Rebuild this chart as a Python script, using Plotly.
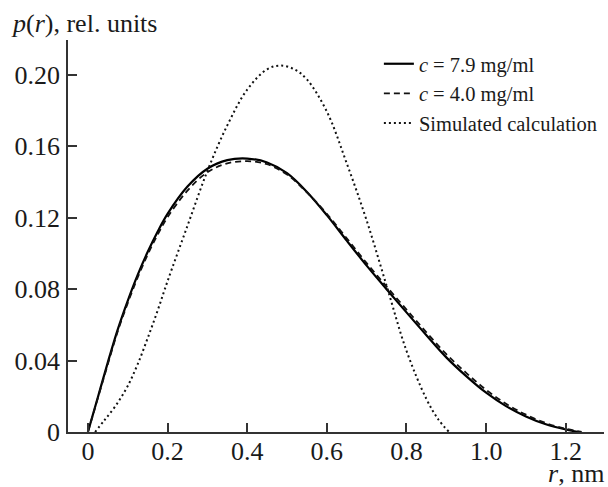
import plotly.graph_objects as go

# Distance distribution functions p(r)
r_79 = [0, 0.025, 0.05, 0.075, 0.1, 0.125, 0.15, 0.175, 0.2, 0.25, 0.3, 0.35,
        0.4, 0.45, 0.5, 0.55, 0.6, 0.65, 0.7, 0.75, 0.8, 0.85, 0.9, 0.95,
        1.0, 1.05, 1.1, 1.15, 1.2, 1.233]
p_79 = [0, 0.0195, 0.039, 0.0575, 0.0735, 0.088, 0.1008, 0.1122, 0.1222,
        0.1375, 0.1475, 0.1523, 0.1532, 0.1510, 0.1450, 0.1345, 0.1215,
        0.1072, 0.0932, 0.0800, 0.0670, 0.0542, 0.0418, 0.0313, 0.0220,
        0.0145, 0.0087, 0.0043, 0.0014, 0]

r_40 = [0, 0.025, 0.05, 0.075, 0.1, 0.125, 0.15, 0.175, 0.2, 0.25, 0.3, 0.35,
        0.4, 0.45, 0.5, 0.55, 0.6, 0.65, 0.7, 0.75, 0.8, 0.85, 0.9, 0.95,
        1.0, 1.05, 1.1, 1.15, 1.2, 1.24]
p_40 = [0, 0.019, 0.038, 0.0565, 0.0722, 0.0866, 0.0993, 0.1105, 0.1203,
        0.1352, 0.1455, 0.1505, 0.1517, 0.1500, 0.1442, 0.1342, 0.1222,
        0.1085, 0.0946, 0.0815, 0.0686, 0.0558, 0.0436, 0.0331, 0.0236,
        0.0158, 0.0097, 0.0050, 0.0018, 0]

r_sim = [0.018, 0.04, 0.07, 0.1, 0.125, 0.15, 0.175, 0.2, 0.25, 0.3, 0.35,
         0.4, 0.45, 0.485, 0.52, 0.55, 0.6, 0.65, 0.7, 0.75, 0.8, 0.85, 0.88,
         0.907]
p_sim = [0, 0.0062, 0.0148, 0.0258, 0.038, 0.0525, 0.068, 0.0845, 0.1155,
         0.1462, 0.1718, 0.1918, 0.2032, 0.2053, 0.2030, 0.1975, 0.1795,
         0.1505, 0.1185, 0.0820, 0.0455, 0.0185, 0.0070, 0]

y_ticks = [0, 0.04, 0.08, 0.12, 0.16, 0.20]
y_ticklabels = ["0", "0.04", "0.08", "0.12", "0.16", "0.20"]
x_ticks = [0, 0.2, 0.4, 0.6, 0.8, 1.0, 1.2]
x_ticklabels = ["0", "0.2", "0.4", "0.6", "0.8", "1.0", "1.2"]

SERIF = "Liberation Serif"
AXIS_COLOR = "#333333"
TEXT_COLOR = "#1a1a1a"

fig = go.Figure()
fig.add_trace(go.Scatter(
    x=r_79, y=p_79, mode="lines", name="<i>c</i> = 7.9 mg/ml",
    line=dict(color="black", width=2.2, shape="spline", smoothing=1.0)))
fig.add_trace(go.Scatter(
    x=r_40, y=p_40, mode="lines", name="<i>c</i> = 4.0 mg/ml",
    line=dict(color="#111111", width=1.8, dash="6px,4px", shape="spline",
              smoothing=1.0)))
fig.add_trace(go.Scatter(
    x=r_sim, y=p_sim, mode="lines", name="Simulated calculation",
    line=dict(color="#111111", width=2.0, dash="2px,3px", shape="spline",
              smoothing=1.0)))

axis_common = dict(
    showgrid=False, zeroline=False, showline=True, linecolor=AXIS_COLOR,
    linewidth=1.5, ticks="inside", ticklen=9, tickwidth=1.5,
    tickcolor=AXIS_COLOR, tickfont=dict(family=SERIF, size=26, color=TEXT_COLOR),
)

fig.update_xaxes(range=[-0.05, 1.296], tickvals=x_ticks,
                 ticktext=x_ticklabels, ticklabelstandoff=-5, **axis_common)
fig.update_yaxes(range=[0, 0.2196], tickvals=y_ticks,
                 ticktext=y_ticklabels, ticklabelstandoff=1, **axis_common)

fig.add_annotation(text="<i>p</i>(<i>r</i>), rel. units", xref="paper",
                   yref="paper", x=-0.11, y=1.0, xanchor="left",
                   yanchor="bottom", yshift=0, showarrow=False,
                   font=dict(family=SERIF, size=26, color=TEXT_COLOR))
fig.add_annotation(text="<i>r</i>, nm", xref="paper", yref="paper",
                   x=1.0, y=0, xanchor="right", yanchor="top", yshift=-25,
                   xshift=2, showarrow=False,
                   font=dict(family=SERIF, size=26, color=TEXT_COLOR))

fig.update_layout(
    width=608, height=487,
    margin=dict(l=68, r=4, t=40, b=55),
    paper_bgcolor="white", plot_bgcolor="white",
    showlegend=True,
    legend=dict(x=0.58, y=0.99, xanchor="left", yanchor="top",
                bgcolor="rgba(0,0,0,0)", borderwidth=0,
                font=dict(family=SERIF, size=20.5, color=TEXT_COLOR)),
)

fig.write_html("out.html")
